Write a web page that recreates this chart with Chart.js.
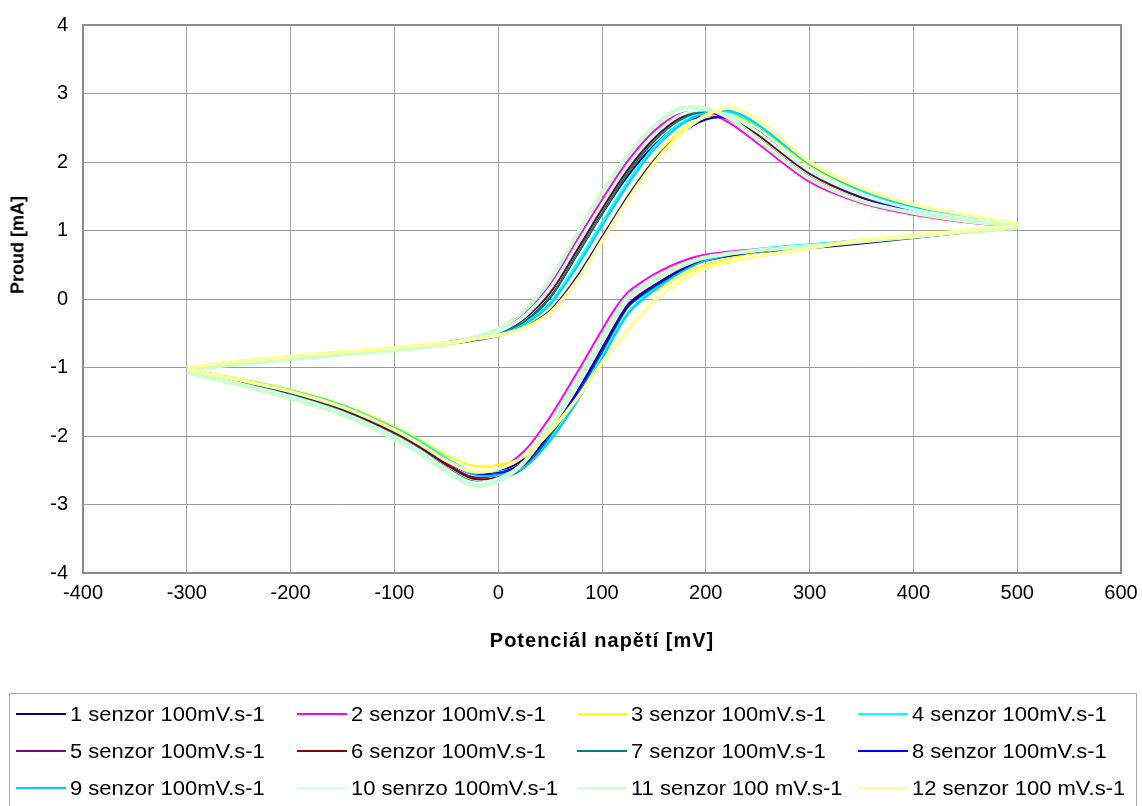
<!DOCTYPE html>
<html>
<head>
<meta charset="utf-8">
<script src="https://cdn.jsdelivr.net/npm/chart.js@4.4.0/dist/chart.umd.min.js"></script>
<style>
html,body{margin:0;padding:0;background:#fff;}
#wrap{position:relative;width:1142px;height:806px;overflow:hidden;font-family:'Liberation Sans',Arial,sans-serif;color:#000;}
#c{position:absolute;left:0;top:0;}
#ytitle{position:absolute;left:18px;top:245px;transform:translate(-50%,-50%) rotate(-90deg);font-weight:bold;font-size:18px;white-space:nowrap;}
#xtitle{position:absolute;left:602px;top:640px;transform:translate(-50%,-50%);font-weight:bold;font-size:20px;letter-spacing:1px;white-space:nowrap;}
#legend{position:absolute;left:9px;top:693px;width:1128px;height:130px;border:1.5px solid #a8a8a8;box-sizing:border-box;}
.item{position:absolute;height:24px;display:flex;align-items:center;font-size:20px;white-space:nowrap;}
.item .ln{display:inline-block;width:50px;height:2px;margin-right:4px;}
.item .tx{display:inline-block;transform:scaleX(1.1);transform-origin:left center;}
</style>
</head>
<body>
<div id="wrap">
  <canvas id="c" width="1142" height="806"></canvas>
  <div id="ytitle">Proud [mA]</div>
  <div id="xtitle">Potenciál napětí [mV]</div>
  <div id="legend"></div>
</div>
<script>
// Potential sweep [mV]: forward scan -300 -> 500 (23 points), then reverse scan 450 -> -300 (24 points)
const potential = [-300,-250,-200,-150,-100,-50,-25,0,25,50,75,100,125,150,175,200,225,250,300,350,400,450,500,
                   450,400,350,300,250,200,175,150,137.5,125,112.5,100,75,50,25,0,-25,-50,-75,-100,-150,-200,-250,-300];

// Current [mA] for each sensor, same order as potential
const s1  = [-1.02,-0.93,-0.86,-0.79,-0.73,-0.66,-0.60,-0.52,-0.34,0.02,0.62,1.24,1.80,2.24,2.55,2.67,2.62,2.42,1.85,1.48,1.28,1.15,1.05,
             0.97,0.89,0.81,0.74,0.68,0.58,0.45,0.27,0.15,0.01,-0.26,-0.60,-1.27,-1.86,-2.33,-2.52,-2.55,-2.37,-2.13,-1.92,-1.59,-1.36,-1.19,-1.03];
const s2  = [-1.02,-0.92,-0.85,-0.78,-0.72,-0.63,-0.56,-0.45,-0.20,0.22,0.84,1.45,2.02,2.45,2.70,2.73,2.55,2.27,1.71,1.40,1.23,1.12,1.04,
             0.99,0.92,0.86,0.79,0.73,0.65,0.54,0.36,0.24,0.10,-0.14,-0.45,-1.10,-1.72,-2.22,-2.48,-2.52,-2.33,-2.10,-1.90,-1.58,-1.35,-1.18,-1.04];
const s3  = [-1.01,-0.92,-0.85,-0.78,-0.72,-0.65,-0.60,-0.53,-0.40,-0.15,0.32,0.92,1.52,2.05,2.45,2.66,2.68,2.51,1.94,1.57,1.34,1.20,1.08,
             0.98,0.91,0.84,0.76,0.68,0.50,0.33,0.10,-0.02,-0.18,-0.47,-0.78,-1.40,-1.92,-2.30,-2.42,-2.43,-2.28,-2.06,-1.86,-1.54,-1.32,-1.16,-1.02];
const s4  = [-1.01,-0.92,-0.85,-0.78,-0.72,-0.65,-0.59,-0.51,-0.35,-0.05,0.50,1.12,1.72,2.22,2.56,2.73,2.72,2.53,1.97,1.58,1.34,1.20,1.08,
             1.00,0.93,0.86,0.80,0.73,0.58,0.40,0.14,0.00,-0.20,-0.50,-0.85,-1.50,-2.05,-2.42,-2.52,-2.52,-2.32,-2.08,-1.88,-1.55,-1.33,-1.17,-1.02];
const s5  = [-1.03,-0.93,-0.86,-0.79,-0.73,-0.65,-0.59,-0.49,-0.28,0.10,0.70,1.33,1.90,2.35,2.64,2.73,2.60,2.35,1.78,1.44,1.26,1.14,1.05,
             0.97,0.90,0.83,0.76,0.70,0.60,0.46,0.26,0.15,0.00,-0.28,-0.63,-1.28,-1.88,-2.36,-2.56,-2.60,-2.40,-2.16,-1.95,-1.62,-1.39,-1.21,-1.05];
const s6  = [-1.02,-0.93,-0.86,-0.79,-0.73,-0.65,-0.59,-0.50,-0.29,0.09,0.69,1.31,1.89,2.34,2.64,2.74,2.63,2.40,1.83,1.48,1.29,1.16,1.06,
             0.98,0.91,0.84,0.77,0.70,0.57,0.42,0.20,0.08,-0.08,-0.38,-0.72,-1.38,-1.96,-2.42,-2.60,-2.62,-2.42,-2.17,-1.95,-1.62,-1.38,-1.20,-1.04];
const s7  = [-1.02,-0.93,-0.86,-0.79,-0.73,-0.66,-0.60,-0.51,-0.33,0.03,0.63,1.25,1.84,2.30,2.61,2.74,2.66,2.43,1.86,1.51,1.31,1.18,1.06,
             0.98,0.91,0.84,0.77,0.70,0.56,0.40,0.17,0.04,-0.12,-0.43,-0.78,-1.43,-2.00,-2.46,-2.64,-2.66,-2.46,-2.20,-1.98,-1.64,-1.40,-1.22,-1.05];
const s8  = [-1.02,-0.93,-0.86,-0.79,-0.73,-0.66,-0.61,-0.54,-0.41,-0.17,0.30,0.90,1.50,2.02,2.40,2.62,2.64,2.45,1.86,1.50,1.29,1.16,1.05,
             0.98,0.91,0.84,0.76,0.69,0.56,0.41,0.19,0.06,-0.10,-0.40,-0.74,-1.39,-1.96,-2.40,-2.54,-2.55,-2.37,-2.13,-1.92,-1.59,-1.36,-1.19,-1.03];
const s9  = [-1.00,-0.91,-0.84,-0.77,-0.71,-0.64,-0.59,-0.52,-0.37,-0.08,0.45,1.07,1.67,2.18,2.53,2.72,2.74,2.55,1.97,1.59,1.35,1.21,1.08,
             0.99,0.92,0.85,0.79,0.72,0.56,0.38,0.12,-0.03,-0.22,-0.53,-0.88,-1.52,-2.07,-2.46,-2.57,-2.56,-2.35,-2.10,-1.89,-1.56,-1.34,-1.18,-1.02];
const s10 = [-1.03,-0.94,-0.87,-0.80,-0.74,-0.66,-0.59,-0.48,-0.26,0.15,0.76,1.38,1.95,2.39,2.68,2.76,2.66,2.44,1.87,1.52,1.31,1.18,1.06,
             0.98,0.91,0.84,0.78,0.71,0.60,0.46,0.26,0.15,0.00,-0.28,-0.63,-1.28,-1.88,-2.38,-2.62,-2.68,-2.48,-2.22,-2.00,-1.66,-1.42,-1.23,-1.06];
const s11 = [-1.04,-0.95,-0.88,-0.81,-0.75,-0.66,-0.57,-0.44,-0.17,0.28,0.92,1.55,2.10,2.52,2.78,2.78,2.62,2.33,1.76,1.43,1.26,1.14,1.05,
             0.98,0.91,0.84,0.77,0.71,0.61,0.48,0.29,0.18,0.04,-0.23,-0.57,-1.22,-1.84,-2.38,-2.66,-2.72,-2.52,-2.26,-2.04,-1.69,-1.45,-1.25,-1.07];
const s12 = [-1.00,-0.91,-0.84,-0.77,-0.71,-0.64,-0.59,-0.53,-0.42,-0.20,0.25,0.85,1.45,1.98,2.40,2.68,2.79,2.62,2.00,1.62,1.38,1.23,1.09,
             1.00,0.93,0.86,0.74,0.62,0.45,0.25,-0.03,-0.23,-0.45,-0.69,-0.93,-1.47,-1.93,-2.29,-2.48,-2.52,-2.36,-2.12,-1.91,-1.58,-1.35,-1.18,-1.03];

const seriesLabels = ['1 senzor 100mV.s-1','2 senzor 100mV.s-1','3 senzor 100mV.s-1','4 senzor 100mV.s-1',
                      '5 senzor 100mV.s-1','6 senzor 100mV.s-1','7 senzor 100mV.s-1','8 senzor 100mV.s-1',
                      '9 senzor 100mV.s-1','10 senrzo 100mV.s-1','11 senzor 100 mV.s-1','12 senzor 100 mV.s-1'];
const seriesValues = [s1,s2,s3,s4,s5,s6,s7,s8,s9,s10,s11,s12];
const seriesColors = ['#000080','#FF00FF','#FFFF00','#00FFFF','#800080','#800000','#008080','#0000FF',
                      '#00CCFF','#CCFFFF','#CCFFCC','#FFFF99'];
const seriesWidths = [2,2,2,2,2,2,2,2,2,3,4,3.5];

const FONT = "'Liberation Sans', Arial, sans-serif";

const datasets = seriesValues.map((vals, i) => ({
  label: seriesLabels[i],
  data: vals.map((v, k) => ({x: potential[k], y: v})),
  showLine: true,
  borderColor: seriesColors[i],
  backgroundColor: seriesColors[i],
  borderWidth: seriesWidths[i],
  pointRadius: 0,
  tension: 0.3,
  fill: false,
  order: seriesValues.length - i
}));

const frame = {
  id: 'frame',
  beforeDatasetsDraw(chart) {
    const a = chart.chartArea, ctx = chart.ctx;
    ctx.save();
    ctx.strokeStyle = '#8c8c8c';
    ctx.lineWidth = 2;
    ctx.strokeRect(a.left, a.top, a.right - a.left, a.bottom - a.top);
    ctx.restore();
  }
};

new Chart(document.getElementById('c'), {
  type: 'scatter',
  data: { datasets },
  options: {
    responsive: false,
    animation: false,
    devicePixelRatio: 1,
    layout: { padding: { left: 0, top: 25, right: 21, bottom: 193 } },
    plugins: { legend: { display: false }, tooltip: { enabled: false }, title: { display: false } },
    scales: {
      x: {
        type: 'linear', min: -400, max: 600,
        ticks: { stepSize: 100, font: { size: 20, family: FONT }, color: '#000', padding: 8, maxRotation: 0, autoSkip: false },
        grid: { color: '#a6a6a6', lineWidth: 1, drawTicks: false },
        border: { display: false },
        afterFit(s) { s.height = 40; s.paddingLeft = 0; s.paddingRight = 0; }
      },
      y: {
        type: 'linear', min: -4, max: 4,
        ticks: { stepSize: 1, font: { size: 20, family: FONT }, color: '#000', padding: 15 },
        grid: { color: '#9a9a9a', lineWidth: 1, drawTicks: false },
        border: { display: false },
        afterFit(s) { s.width = 83; s.paddingTop = 0; s.paddingBottom = 0; }
      }
    }
  },
  plugins: [frame]
});

// HTML legend (4 columns x 3 rows)
const legend = document.getElementById('legend');
const colX = [6, 286.5, 567, 847.5];
const rowY = [8, 45, 82];
seriesLabels.forEach((lab, i) => {
  const it = document.createElement('div');
  it.className = 'item';
  it.style.left = colX[i % 4] + 'px';
  it.style.top = rowY[Math.floor(i / 4)] + 'px';
  const ln = document.createElement('span');
  ln.className = 'ln';
  ln.style.background = seriesColors[i];
  const tx = document.createElement('span');
  tx.className = 'tx';
  tx.textContent = lab;
  it.appendChild(ln);
  it.appendChild(tx);
  legend.appendChild(it);
});
</script>
</body>
</html>
